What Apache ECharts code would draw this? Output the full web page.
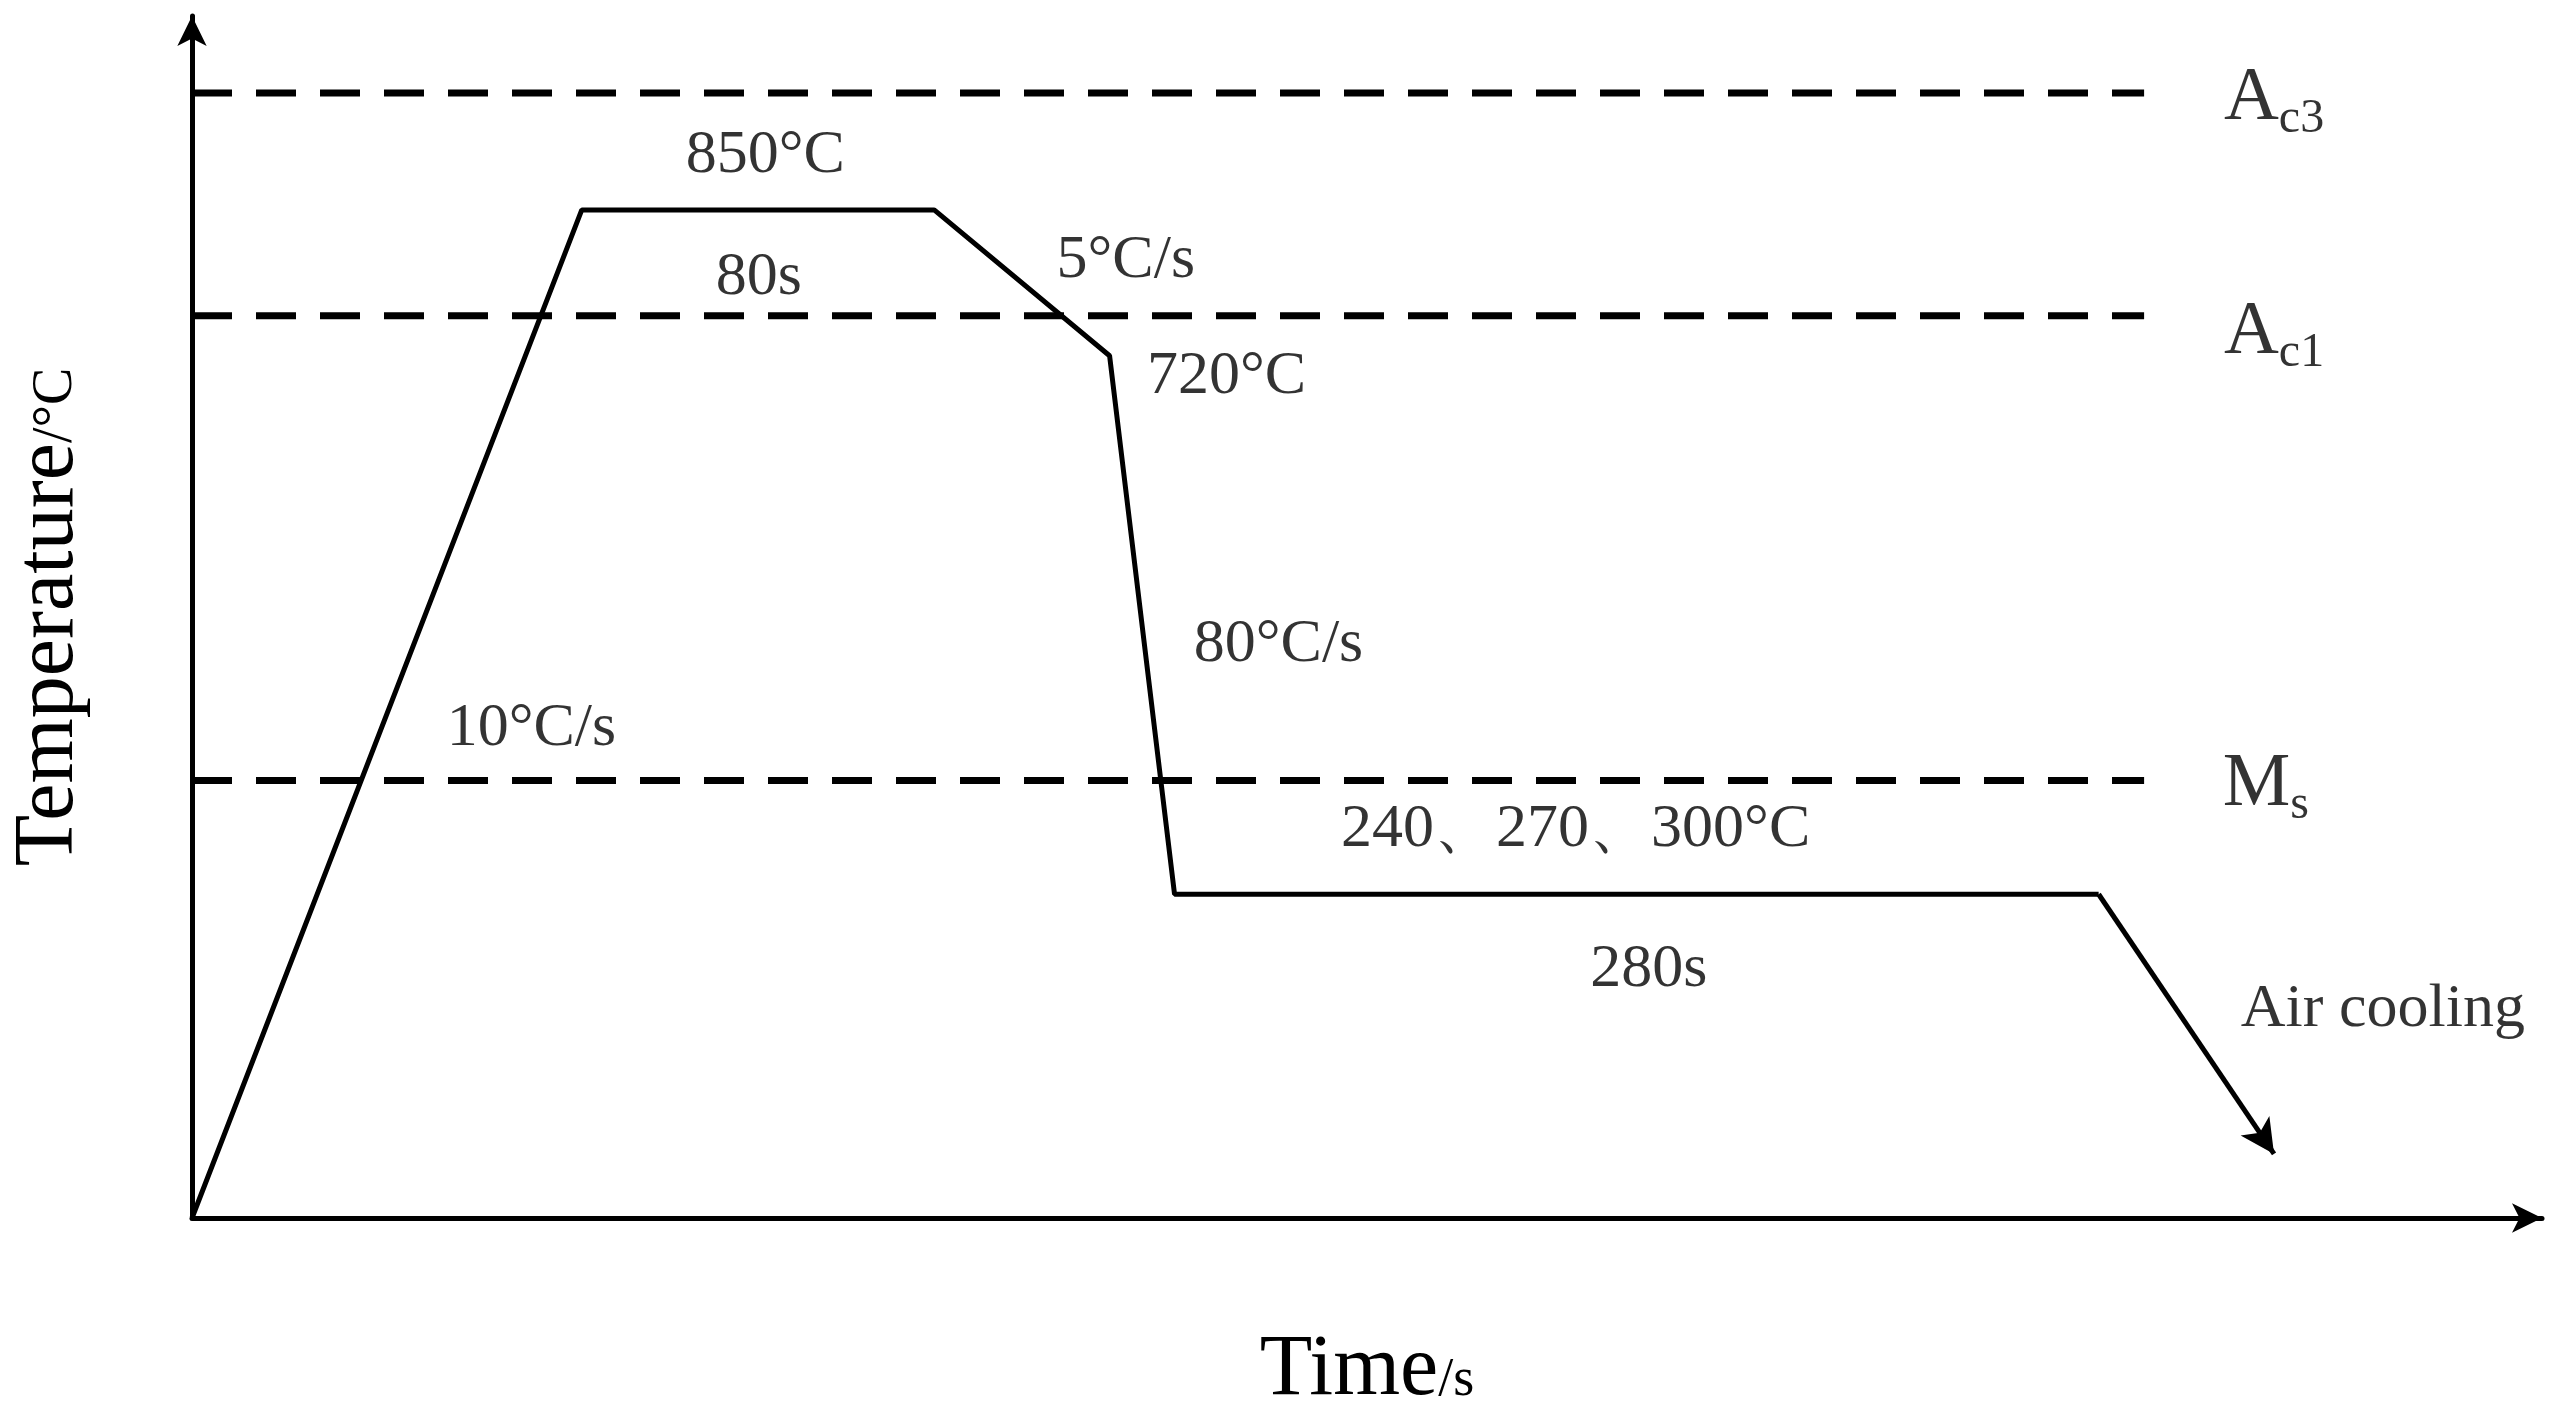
<!DOCTYPE html>
<html><head><meta charset="utf-8">
<script src="https://cdn.jsdelivr.net/npm/echarts@6/dist/echarts.min.js"></script>
<style>html,body{margin:0;background:#fff}#c{width:2572px;height:1419px}</style></head>
<body><div id="c"></div>
<script>
const processX = [0, 240, 457, 565, 605, 1174];
const processY = [0, 629, 629, 538, 202, 202];
const airCoolEnd = [1282, 40];
const criticalNames = ['c3', 'c1', 's'];
const criticalY = [702, 563, 273];
const criticalPrefix = ['A', 'A', 'M'];
const dashEndX = 1202;
const labelTexts = ['850°C', '80s', '5°C/s', '720°C', '80°C/s', '10°C/s', '240、270、300°C', '280s', 'Air cooling'];
const labelX = [353, 349, 575, 637, 669, 209, 852, 897, 1349];
const labelY = [663, 587, 597, 525, 358, 305, 242, 155, 130];
const critLabelX = [1282, 1282, 1277];
const critLabelY = [698, 552, 270];

const font = 'Liberation Serif';
const chart = echarts.init(document.getElementById('c'));
const series = [];
series.push({
  type: 'line', data: processX.map((x, i) => [x, processY[i]]), symbol: 'none',
  lineStyle: {color: '#000', width: 5}, silent: true,
  markLine: {silent: true, symbol: ['none', 'arrow'], symbolSize: [26, 34],
    lineStyle: {color: '#000', width: 5, type: 'solid'}, label: {show: false},
    data: [[{coord: [processX[5], processY[5]]}, {coord: airCoolEnd}]]}
});
criticalY.forEach((y) => series.push({
  type: 'line', data: [[0, y], [dashEndX, y]], symbol: 'none', silent: true,
  lineStyle: {color: '#000', width: 7, type: [40, 24]}
}));
series.push({
  type: 'scatter', symbolSize: 0, silent: true,
  data: labelTexts.map((t, i) => ({value: [labelX[i], labelY[i]], name: t})),
  label: {show: true, position: 'inside', formatter: p => p.name, fontFamily: font,
    fontSize: 62, color: '#000'}
});
series.push({
  type: 'scatter', symbolSize: 0, silent: true,
  data: criticalNames.map((n, i) => ({value: [critLabelX[i], critLabelY[i]], name: n})),
  label: {show: true, position: 'inside', fontFamily: font, color: '#000',
    formatter: p => '{a|' + criticalPrefix[p.dataIndex] + '}{s|' + p.name + '}',
    rich: {a: {fontSize: 76, fontFamily: font, color: '#000'},
           s: {fontSize: 48, fontFamily: font, color: '#000', padding: [40, 0, 0, 0]}}}
});
chart.setOption({
  backgroundColor: '#fff', animation: false,
  grid: {left: 169, right: 30, top: 16, bottom: 173},
  xAxis: {type: 'value', min: 0, max: 1447,
    axisLine: {lineStyle: {color: '#000', width: 5}, symbol: ['none', 'arrow'], symbolSize: [22, 30]},
    axisTick: {show: false}, axisLabel: {show: false}, splitLine: {show: false},
    name: '{a|Time}{b|/s}', nameLocation: 'middle', nameGap: 110,
    nameTextStyle: {rich: {a: {fontSize: 86, fontFamily: font, color: '#000'},
      b: {fontSize: 54, fontFamily: font, color: '#000', padding: [20, 0, 0, 0]}}}},
  yAxis: {type: 'value', min: 0, max: 750,
    axisLine: {lineStyle: {color: '#000', width: 5}, symbol: ['none', 'arrow'], symbolSize: [22, 30]},
    axisTick: {show: false}, axisLabel: {show: false}, splitLine: {show: false},
    name: '{a|Temperature}{b|/°C}', nameLocation: 'middle', nameGap: 100,
    nameTextStyle: {rich: {a: {fontSize: 84, fontFamily: font, color: '#000'},
      b: {fontSize: 56, fontFamily: font, color: '#000', padding: [12, 0, 0, 0]}}}},
  series
});
</script></body></html>
